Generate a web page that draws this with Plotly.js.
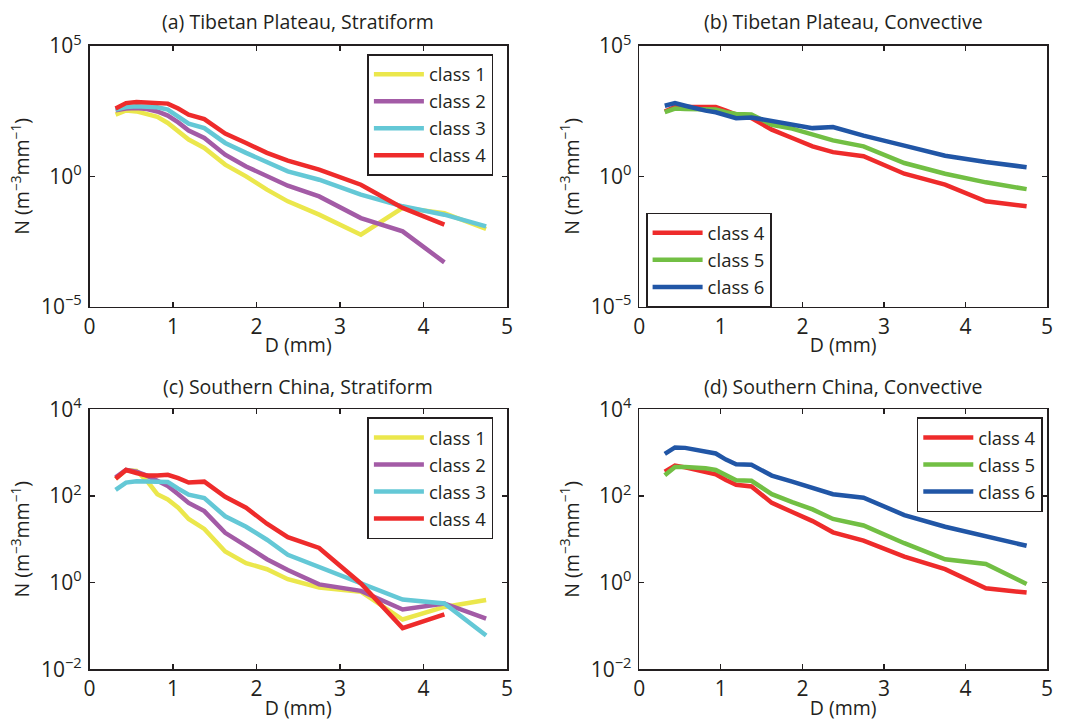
<!DOCTYPE html>
<html>
<head>
<meta charset="utf-8">
<script src="https://cdn.plot.ly/plotly-3.0.1.min.js"></script>
<style>html,body{margin:0;padding:0;background:#fff;}#chart{width:1065px;height:724px;}</style>
</head>
<body>
<div id="chart"></div>
<script>
// Drop diameter bin centres (mm)
const D = [0.3125, 0.4375, 0.5625, 0.6875, 0.8125, 0.9375, 1.0625, 1.1875, 1.375, 1.625, 1.875, 2.125, 2.375, 2.75, 3.25, 3.75, 4.25, 4.75];

// (a) Tibetan Plateau, Stratiform
const tpStrat1 = [234, 339, 309, 251, 191, 112, 53.7, 25.7, 12.3, 2.82, 1.0, 0.309, 0.110, 0.0339, 0.00575, 0.0617, 0.0389, 0.00955];
const tpStrat2 = [339, 398, 417, 380, 309, 214, 117, 57.5, 29.5, 6.76, 2.40, 1.0, 0.437, 0.170, 0.0251, 0.00776, 0.000501];
const tpStrat3 = [363, 457, 490, 468, 447, 363, 200, 105, 70.8, 19.1, 7.94, 3.47, 1.55, 0.741, 0.200, 0.0708, 0.0339, 0.0120];
const tpStrat4 = [398, 646, 708, 692, 676, 617, 398, 234, 158, 43.7, 19.1, 7.94, 3.98, 1.82, 0.479, 0.0617, 0.0141];

// (b) Tibetan Plateau, Convective
const tpConv4 = [309, 457, 455, 460, 462, 458, 331, 234, 174, 61.7, 29.5, 14.1, 8.51, 5.89, 1.26, 0.479, 0.110, 0.0708];
const tpConv5 = [288, 398, 380, 363, 347, 363, 288, 245, 234, 95.5, 67.6, 39.8, 24.0, 14.1, 3.24, 1.26, 0.589, 0.324];
const tpConv6 = [513, 646, 513, 398, 331, 288, 214, 170, 182, 129, 95.5, 70.8, 77.6, 36.3, 15.1, 6.17, 3.55, 2.24];

// (c) Southern China, Stratiform
const scStrat1 = [251, 398, 380, 224, 110, 83.2, 53.7, 29.5, 17.4, 5.25, 2.82, 2.04, 1.20, 0.776, 0.617, 0.141, 0.275, 0.398];
const scStrat2 = [269, 398, 363, 295, 224, 170, 110, 69.2, 44.7, 14.1, 7.08, 3.47, 1.95, 0.912, 0.646, 0.240, 0.331, 0.148];
const scStrat3 = [138, 204, 219, 214, 209, 209, 148, 107, 89.1, 33.9, 19.5, 9.77, 4.37, 2.29, 1.0, 0.407, 0.331, 0.0603];
const scStrat4 = [251, 398, 339, 295, 295, 309, 257, 204, 214, 95.5, 53.7, 22.9, 11.2, 6.31, 0.955, 0.0891, 0.186];

// (d) Southern China, Convective
const scConv4 = [363, 501, 457, 398, 363, 316, 234, 182, 166, 69.2, 42.7, 26.3, 14.5, 9.33, 3.98, 2.04, 0.741, 0.589];
const scConv5 = [302, 468, 468, 457, 437, 398, 302, 229, 224, 110, 72.4, 49.0, 29.5, 20.9, 8.13, 3.47, 2.69, 0.933];
const scConv6 = [933, 1318, 1288, 1148, 1047, 955, 692, 537, 525, 295, 214, 151, 110, 91.2, 36.3, 19.5, 11.7, 7.08];

const panelTitles = ["(a) Tibetan Plateau, Stratiform", "(b) Tibetan Plateau, Convective", "(c) Southern China, Stratiform", "(d) Southern China, Convective"];
const xTickVals = [0, 1, 2, 3, 4, 5];
const yTickValsTop = [1e-5, 1, 1e5];
const yTickTextTop = ["10<sup>−5</sup>", "10<sup>0</sup>", "10<sup>5</sup>"];
const yTickValsBot = [1e-2, 1, 1e2, 1e4];
const yTickTextBot = ["10<sup>−2</sup>", "10<sup>0</sup>", "10<sup>2</sup>", "10<sup>4</sup>"];

const colors = {1: "#EBE74C", 2: "#A35BA6", 3: "#64C8D6", 4: "#EE2B2B", 5: "#72BF44", 6: "#2156A6"};
const FONT = "'Open Sans', sans-serif";
const FS = 19.5;
const FT = 21;
const FL = 18.5;
const ink = "#231F20";

function tr(y, cls, xa, ya, leg) {
  return {x: D.slice(0, y.length), y: y, type: "scatter", mode: "lines", name: "class " + cls,
    xaxis: xa, yaxis: ya, legend: leg,
    line: {color: colors[cls], width: 4.5}};
}

const data = [
  tr(tpStrat1, 1, "x", "y", "legend"), tr(tpStrat2, 2, "x", "y", "legend"),
  tr(tpStrat3, 3, "x", "y", "legend"), tr(tpStrat4, 4, "x", "y", "legend"),
  tr(tpConv4, 4, "x2", "y2", "legend2"), tr(tpConv5, 5, "x2", "y2", "legend2"), tr(tpConv6, 6, "x2", "y2", "legend2"),
  tr(scStrat1, 1, "x3", "y3", "legend3"), tr(scStrat2, 2, "x3", "y3", "legend3"),
  tr(scStrat3, 3, "x3", "y3", "legend3"), tr(scStrat4, 4, "x3", "y3", "legend3"),
  tr(scConv4, 4, "x4", "y4", "legend4"), tr(scConv5, 5, "x4", "y4", "legend4"), tr(scConv6, 6, "x4", "y4", "legend4")
];

const W = 1065, H = 724;
function px(x) { return x / W; }
function py(y) { return 1 - y / H; }

function xaxis(domain, anchor) {
  return {domain: domain, anchor: anchor, range: [0, 5], tickvals: xTickVals, ticks: "inside", ticklen: 5,
    tickcolor: ink, tickwidth: 1.2, showline: true, linecolor: ink, linewidth: 1.6, mirror: "ticks",
    showgrid: false, zeroline: false, tickfont: {family: FONT, size: FT, color: ink},
    title: {text: "D (mm)", font: {family: FONT, size: FS, color: ink}, standoff: 0}};
}
function yaxis(domain, anchor, range, tv, tt) {
  return {domain: domain, anchor: anchor, type: "log", range: range, tickvals: tv, ticktext: tt,
    ticks: "inside", ticklen: 5, tickcolor: ink, tickwidth: 1.2, showline: true, linecolor: ink, linewidth: 1.6,
    mirror: "ticks", showgrid: false, zeroline: false, tickfont: {family: FONT, size: FT, color: ink},
    ticklabelstandoff: 2,
    title: {text: "N (m<sup>−3</sup>mm<sup>−1</sup>)", font: {family: FONT, size: FS, color: ink}, standoff: 6}};
}
function legend(x, y) {
  return {x: px(x), y: py(y), xanchor: "left", yanchor: "top", bgcolor: "#fff", bordercolor: ink, borderwidth: 1.6,
    font: {family: FONT, size: FL, color: ink}, tracegroupgap: 0, itemwidth: 50};
}

const xdL = [px(89.5), px(507)], xdR = [px(639.3), px(1047)];
const ydT = [py(306.7), py(46)], ydB = [py(669.3), py(409.3)];

const layout = {
  width: W, height: H, margin: {l: 0, r: 0, t: 0, b: 0}, paper_bgcolor: "#fff", plot_bgcolor: "#fff",
  font: {family: FONT, color: ink},
  xaxis: xaxis(xdL, "y"), yaxis: yaxis(ydT, "x", [-5, 5], yTickValsTop, yTickTextTop),
  xaxis2: xaxis(xdR, "y2"), yaxis2: yaxis(ydT, "x2", [-5, 5], yTickValsTop, yTickTextTop),
  xaxis3: xaxis(xdL, "y3"), yaxis3: yaxis(ydB, "x3", [-2, 4], yTickValsBot, yTickTextBot),
  xaxis4: xaxis(xdR, "y4"), yaxis4: yaxis(ydB, "x4", [-2, 4], yTickValsBot, yTickTextBot),
  legend: legend(367.3, 54), legend2: legend(646, 212.7), legend3: legend(367.3, 417.3), legend4: legend(916.7, 417.3),
  annotations: panelTitles.map((t, i) => ({
    text: t, xref: "paper", yref: "paper", showarrow: false,
    x: i % 2 === 0 ? (xdL[0] + xdL[1]) / 2 : (xdR[0] + xdR[1]) / 2,
    y: i < 2 ? py(21) : py(386), xanchor: "center", yanchor: "middle",
    font: {family: FONT, size: FS, color: ink}
  }))
};

Plotly.newPlot("chart", data, layout, {displayModeBar: false, staticPlot: true});
</script>
</body>
</html>
